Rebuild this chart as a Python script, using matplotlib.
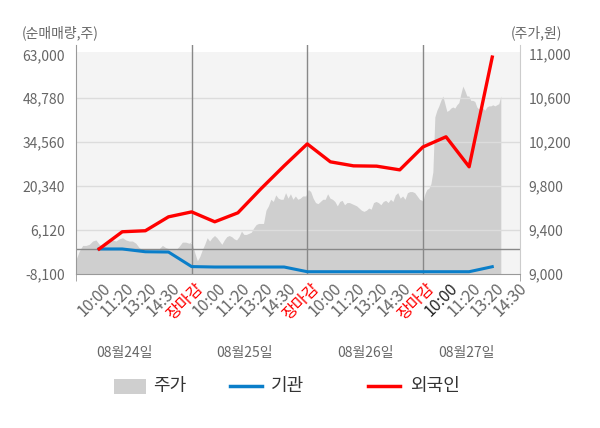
import numpy as np
import matplotlib.pyplot as plt
import matplotlib.transforms as mtransforms
from matplotlib.patches import Rectangle
from matplotlib.lines import Line2D

plt.rcParams['font.family'] = ['Noto Sans CJK KR', 'DejaVu Sans']

# net buying (shares), one value per time slot 1..18
slots = list(range(1, 19))
foreign = [0, 5570, 5900, 10400, 12000, 8800, 11700, 19500, 26900,
           34000, 28200, 26900, 26800, 25600, 33000, 36300, 26600, 62100]
institution = [0, 0, -900, -990, -5700, -5840, -5840, -5840, -5840,
               -7360, -7360, -7360, -7360, -7360, -7360, -7360, -7360, -5740]

# stock price (won), per day
price_d1 = [9130, 9210, 9260, 9260, 9270, 9300, 9310, 9270, 9250, 9280,
            9320, 9310, 9300, 9320, 9330, 9310, 9300, 9300, 9280, 9240,
            9220, 9230, 9220, 9220, 9220, 9230, 9260, 9240, 9230, 9230,
            9220, 9250, 9290, 9290, 9280, 9300]
price_d2 = [9280, 9270, 9190, 9120, 9160, 9220, 9270, 9330, 9300, 9330,
            9350, 9330, 9300, 9270, 9310, 9340, 9350, 9340, 9320, 9310,
            9340, 9390, 9360, 9360, 9370, 9380, 9420, 9450, 9460, 9460,
            9460, 9580, 9620, 9680, 9660, 9720, 9690, 9680, 9680, 9740,
            9690, 9730, 9680, 9710, 9680, 9690, 9710, 9710]
price_d3 = [9710, 9770, 9750, 9690, 9650, 9640, 9660, 9680, 9680, 9730,
            9690, 9680, 9660, 9620, 9660, 9670, 9630, 9650, 9650, 9640,
            9630, 9620, 9600, 9580, 9570, 9580, 9600, 9590, 9650, 9660,
            9650, 9630, 9660, 9670, 9650, 9680, 9660, 9720, 9740, 9690,
            9710, 9680, 9740, 9750, 9750, 9740, 9710, 9680, 9670]
price_d4 = [9660, 9730, 9770, 9780, 9820, 9930, 10430, 10490, 10530, 10580,
            10620, 10550, 10480, 10490, 10510, 10520, 10510, 10540, 10560, 10640,
            10710, 10670, 10620, 10620, 10580, 10580, 10570, 10520, 10500, 10520,
            10510, 10490, 10520, 10530, 10530, 10540, 10530, 10540, 10550, 10620]

tick_pos = list(range(1, 20))
tick_lab = ['10:00', '11:20', '13:20', '14:30', '장마감'] * 3 + ['10:00', '11:20', '13:20', '14:30']
day_labels = ['08월24일', '08월25일', '08월26일', '08월27일']
day_label_pos = [2.1, 7.3, 12.5, 16.9]

left_ticks = [-8100, 6120, 20340, 34560, 48780, 63000]
right_ticks = [9000, 9400, 9800, 10200, 10600, 11000]

xmax = 19.2
px_x = np.concatenate([np.linspace(0, 5.03, len(price_d1)),
                       np.linspace(4.93, 9.91, len(price_d2)),
                       np.linspace(9.94, 14.96, len(price_d3)),
                       np.linspace(15.0, 18.37, len(price_d4))])
prices = np.array(price_d1 + price_d2 + price_d3 + price_d4)

rect = [76 / 600, 154 / 428, 444 / 600, 229 / 428]
fig = plt.figure(figsize=(6, 4.28), dpi=100)
ax2 = fig.add_axes(rect)
ax = fig.add_axes(rect)
ax.patch.set_visible(False)

# price area on the back axes, right scale
ax2.set_ylim(9000, 11084)
ax2.set_xlim(0, xmax)
ax2.axhspan(9000, 11021, color='#f4f4f4', zorder=0, lw=0)
ax2.fill_between(px_x, 9000, prices, color='#cfcfcf', lw=0, zorder=1)
for s in ax2.spines.values():
    s.set_visible(False)
ax2.xaxis.set_visible(False)
ax2.yaxis.tick_right()
ax2.set_yticks(right_ticks, [f'{v:,}' for v in right_ticks])
ax2.tick_params(axis='y', length=0, pad=6, labelsize=10, labelcolor='#666666')

# lines axes in front, left scale
ax.set_ylim(-8100, 66010)
ax.set_xlim(0, xmax)
for v in left_ticks[1:-1]:
    ax.axhline(v, color='#dcdcdc', lw=1, zorder=1)
ax.axhline(0, color='#888888', lw=1, zorder=2)
for d in [5, 10, 15]:
    ax.axvline(d, color='#888888', lw=1, zorder=2)

ax.plot(slots, institution, color='#0a7ec9', lw=2.2, zorder=4)
ax.plot(slots, foreign, color='#ff0000', lw=2.4, zorder=5)

ax.spines['top'].set_visible(False)
ax.spines['left'].set_color('#999999')
ax.spines['right'].set_color('#cccccc')
ax.spines['bottom'].set_color('#999999')

ax.set_yticks(left_ticks, [f'{v:,}' for v in left_ticks])
ax.tick_params(axis='y', length=0, pad=8, labelsize=10, labelcolor='#666666')

ax.set_xticks(tick_pos, tick_lab)
ax.set_xticks([0, 5, 10, 15, xmax], minor=True)
ax.tick_params(axis='x', which='major', length=0, pad=4, labelsize=11.5, labelcolor='#666666')
ax.tick_params(axis='x', which='minor', length=5, color='#999999')
shift = mtransforms.ScaledTranslation(3 / 100, 0, fig.dpi_scale_trans)
for i, t in enumerate(ax.get_xticklabels()):
    t.set_rotation(45)
    t.set_ha('right')
    t.set_va('top')
    t.set_rotation_mode('anchor')
    t.set_transform(t.get_transform() + shift)
    if tick_lab[i] == '장마감':
        t.set_color('#ff0000')
    elif i == 15:
        t.set_color('#222222')

for p, lab in zip(day_label_pos, day_labels):
    ax.text(p, -0.345, lab, transform=ax.get_xaxis_transform(), ha='center', va='center',
            fontsize=10, color='#666666')

fig.text(22 / 600, 1 - 33 / 428, '(순매매량,주)', ha='left', va='center', fontsize=10, color='#666666')
fig.text(562 / 600, 1 - 33 / 428, '(주가,원)', ha='right', va='center', fontsize=10, color='#666666')

# legend
ly = 1 - 386 / 428
fig.add_artist(Rectangle((114 / 600, ly - 7.5 / 428), 32 / 600, 15 / 428,
                         transform=fig.transFigure, color='#cfcfcf', lw=0))
fig.text(153 / 600, ly, '주가', ha='left', va='center', fontsize=13, color='#333333')
fig.add_artist(Line2D([230 / 600, 262 / 600], [ly, ly], transform=fig.transFigure,
                      color='#0a7ec9', lw=2.5))
fig.text(271 / 600, ly, '기관', ha='left', va='center', fontsize=13, color='#333333')
fig.add_artist(Line2D([368 / 600, 400 / 600], [ly, ly], transform=fig.transFigure,
                      color='#ff0000', lw=2.5))
fig.text(410 / 600, ly, '외국인', ha='left', va='center', fontsize=13, color='#333333')

fig.savefig('out.png', dpi=100)
